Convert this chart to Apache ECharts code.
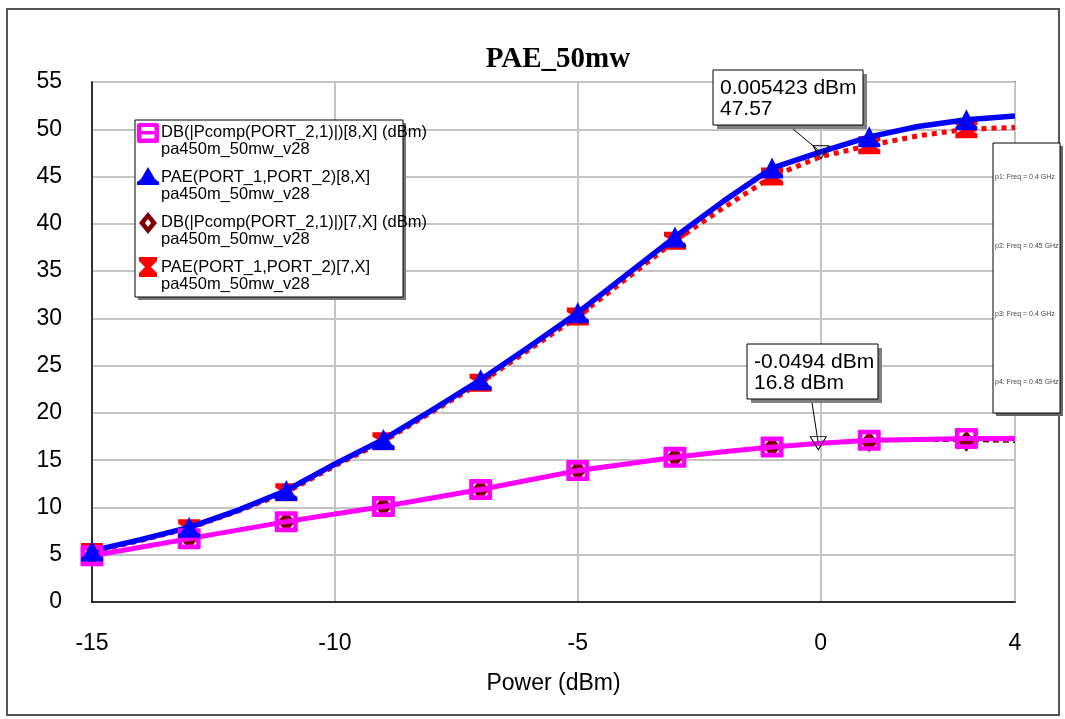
<!DOCTYPE html>
<html><head><meta charset="utf-8">
<script src="https://cdn.jsdelivr.net/npm/echarts@6/dist/echarts.min.js"></script>
<style>html,body{margin:0;padding:0;background:#fff}#c{width:1065px;height:719px}</style>
</head><body><div id="c"></div>
<script>
// ---- data ----
const xValues = [-15,-14,-13,-12,-11,-10,-9,-8,-7,-6,-5,-4,-3,-2,-1,0,1,2,3,4];
const dbPcomp8 = [4.9,5.8,6.7,7.6,8.5,9.3,10.1,11.0,11.9,12.9,13.9,14.6,15.3,15.9,16.4,16.8,17.1,17.2,17.3,17.3];
const pae8     = [5.4,6.6,7.9,9.7,11.8,14.6,17.2,20.3,23.5,27.0,30.6,34.6,38.6,42.4,45.9,47.6,49.2,50.3,51.0,51.4];
const dbPcomp7 = [4.9,5.8,6.7,7.6,8.5,9.3,10.1,11.0,11.9,12.9,13.9,14.6,15.3,15.9,16.4,16.7,16.95,17.0,17.0,16.9];
const pae7     = [5.3,6.5,7.8,9.6,11.6,14.4,17.0,20.1,23.2,26.7,30.2,34.2,38.2,41.7,45.0,47.1,48.3,49.3,50.0,50.2];
const seriesNames = ['DB(|Pcomp(PORT_2,1)|)[8,X] (dBm)','PAE(PORT_1,PORT_2)[8,X]','DB(|Pcomp(PORT_2,1)|)[7,X] (dBm)','PAE(PORT_1,PORT_2)[7,X]'];
const datasetName = 'pa450m_50mw_v28';
const xAxisRange = {min:-15, max:4, interval:5};
const yAxisRange = {min:0, max:55, interval:5};
const titleText = 'PAE_50mw';
const xAxisName = 'Power (dBm)';
const annotation1 = [0.005423, 47.57];
const annotation1Text = ['0.005423 dBm','47.57'];
const annotation2 = [-0.0494, 16.8];
const annotation2Text = ['-0.0494 dBm','16.8 dBm'];
const freqNotes = ['p1: Freq = 0.4 GHz','p2: Freq = 0.45 GHz','p3: Freq = 0.4 GHz','p4: Freq = 0.45 GHz'];

// ---- styles ----
const FONT = '"Liberation Sans", Arial, sans-serif';
const SYM_SQUARE = 'path://M1,0H19Q20,0 20,1V17Q20,18 19,18H1Q0,18 0,17V1Q0,0 1,0Z M4,4V7.5H16V4Z M4,10.5V14H16V10.5Z';
const SYM_HOUR = 'path://M0,0H20V4L13,8L20,12V16H0V12L7,8L0,4Z';
const SYM_TRI = 'path://M10,0L17,13L20,15V18H0V15L3,13Z';
const TRI_DOWN = 'path://M0,0L16,0L8,13Z';
function everyOther(sym){ return function(v, p){ return p.dataIndex % 2 === 0 ? sym : 'none'; }; }
function pts(arr){ return xValues.map((x,i)=>[x, arr[i]]); }

const chart = echarts.init(document.getElementById('c'), null, {renderer:'canvas'});
const option = {
  animation:false,
  backgroundColor:'#fff',
  title:{text:titleText, left:553, textAlign:'center', top:40,
    textStyle:{fontFamily:'"Liberation Serif", "Times New Roman", serif', fontWeight:'bold', fontSize:29, color:'#000'}},
  grid:{left:92, right:50, top:82, bottom:117, show:true, borderColor:'#000', borderWidth:1.5, backgroundColor:'#fff'},
  xAxis:{type:'value', min:xAxisRange.min, max:xAxisRange.max, interval:xAxisRange.interval,
    name:xAxisName, nameLocation:'middle', nameGap:70,
    nameTextStyle:{fontFamily:FONT, fontSize:23, color:'#000'},
    axisLine:{show:true, onZero:false, lineStyle:{color:'#000', width:1.5}}, axisTick:{show:false},
    axisLabel:{fontFamily:FONT, fontSize:23, color:'#000', margin:30},
    splitLine:{show:true, lineStyle:{color:'#c4c4c4', width:2}}},
  yAxis:{type:'value', min:yAxisRange.min, max:yAxisRange.max, interval:yAxisRange.interval,
    axisLine:{show:true, onZero:false, lineStyle:{color:'#000', width:1.5}}, axisTick:{show:false},
    axisLabel:{fontFamily:FONT, fontSize:23, color:'#000', margin:30},
    splitLine:{show:true, lineStyle:{color:'#c4c4c4', width:2}}},
  series:[
    {name:seriesNames[2], type:'line', z:2, data:pts(dbPcomp7), symbol:everyOther('diamond'), symbolSize:[18,21],
      showAllSymbol:true, itemStyle:{color:'#800000', borderWidth:0},
      lineStyle:{color:'#800000', width:1.5, type:[6,4]}, emphasis:{disabled:true}},
    {name:seriesNames[3], type:'line', z:2, data:pts(pae7), symbol:everyOther(SYM_HOUR), symbolSize:[22,18],
      showAllSymbol:true, itemStyle:{color:'#ff0000', borderWidth:0},
      lineStyle:{color:'#ff0000', width:5, type:'dotted', cap:'butt'}, emphasis:{disabled:true}},
    {name:seriesNames[0], type:'line', z:3, data:pts(dbPcomp8), symbol:everyOther(SYM_SQUARE), symbolSize:[23,21],
      showAllSymbol:true, itemStyle:{color:'#ff00ff', borderWidth:0},
      lineStyle:{color:'#ff00ff', width:5}, emphasis:{disabled:true},
      markPoint:{symbol:TRI_DOWN, symbolSize:[16,13], silent:true, label:{show:false},
        itemStyle:{color:'rgba(255,255,255,0)', borderColor:'#000', borderWidth:1},
        data:[{coord:annotation2}]}},
    {name:seriesNames[1], type:'line', z:3, data:pts(pae8), symbol:everyOther(SYM_TRI), symbolSize:[22,21],
      showAllSymbol:true, itemStyle:{color:'#0000ff', borderWidth:0},
      lineStyle:{color:'#0000ff', width:5.5}, emphasis:{disabled:true},
      markPoint:{symbol:TRI_DOWN, symbolSize:[16,13], silent:true, label:{show:false},
        itemStyle:{color:'rgba(255,255,255,0)', borderColor:'#000', borderWidth:1},
        data:[{coord:annotation1}]}}
  ]
};
chart.setOption(option);

// ---- decorations (legend, notes, annotation boxes) ----
const p1 = chart.convertToPixel({seriesIndex:3}, annotation1);
const p2 = chart.convertToPixel({seriesIndex:2}, annotation2);
const g = [];
// outer frame
g.push({type:'rect', z:1, shape:{x:7, y:9, width:1052, height:706}, style:{fill:'none', stroke:'#555', lineWidth:2}});
// legend box
const LX=135, LY=120, LW=268, LH=177;
g.push({type:'rect', z:50, shape:{x:LX+3, y:LY+3, width:LW, height:LH}, style:{fill:'#777'}});
g.push({type:'rect', z:51, shape:{x:LX, y:LY, width:LW, height:LH}, style:{fill:'#fff', stroke:'#000', lineWidth:1}});
const rows = [133,178,223,268];
// icons
g.push({type:'rect', z:52, shape:{x:137,y:123,width:22,height:20,r:2}, style:{fill:'#ff00ff'}});
g.push({type:'rect', z:53, shape:{x:141.5,y:127,width:13,height:4}, style:{fill:'#fff'}});
g.push({type:'rect', z:53, shape:{x:141.5,y:134.5,width:13,height:4}, style:{fill:'#fff'}});
g.push({type:'polygon', z:52, shape:{points:[[137,185],[159,185],[159,182],[155,179],[148,167],[141,179],[137,182]]}, style:{fill:'#0000ff'}});
g.push({type:'polygon', z:52, shape:{points:[[148,212],[157,223],[148,234],[139,223]]}, style:{fill:'#800000'}});
g.push({type:'polygon', z:53, shape:{points:[[148,219],[151,223],[148,227],[145,223]]}, style:{fill:'#fff'}});
g.push({type:'polygon', z:52, shape:{points:[[139,257],[157,257],[157,261],[151,267],[157,273],[157,277],[139,277],[139,273],[145,267],[139,261]]}, style:{fill:'#ff0000'}});
seriesNames.forEach((n,i)=>{
  g.push({type:'text', z:54, x:161, y:rows[i]-9, style:{text:n+'\n'+datasetName, font:'16.5px '+FONT, fill:'#000', lineHeight:17}});
});
// freq notes box
g.push({type:'rect', z:50, shape:{x:996, y:146, width:67, height:270}, style:{fill:'#666'}});
g.push({type:'rect', z:51, shape:{x:993, y:143, width:67, height:270}, style:{fill:'#fff', stroke:'#000', lineWidth:1}});
[177,246,314,382].forEach((yy,i)=>{
  g.push({type:'text', z:52, x:995, y:yy, style:{text:freqNotes[i], font:'7px '+FONT, fill:'#444', verticalAlign:'middle'}});
});
// annotation boxes
function annot(bx, by, bw, bh, lines, lx, ly, pt){
  g.push({type:'line', z:40, shape:{x1:lx, y1:ly, x2:pt[0], y2:pt[1]}, style:{stroke:'#000', lineWidth:1}});
  g.push({type:'rect', z:41, shape:{x:bx+4, y:by+4, width:bw, height:bh}, style:{fill:'#808080'}});
  g.push({type:'rect', z:42, shape:{x:bx, y:by, width:bw, height:bh}, style:{fill:'#fff', stroke:'#000', lineWidth:1}});
  g.push({type:'text', z:43, x:bx+7, y:by+7, style:{text:lines.join('\n'), font:'21px '+FONT, fill:'#000', lineHeight:21.5}});
}
annot(713, 70, 150, 55, annotation1Text, 793, 129, p1);
annot(747, 344, 131, 55, annotation2Text, 812, 403, p2);
chart.setOption({graphic:g});
</script></body></html>
